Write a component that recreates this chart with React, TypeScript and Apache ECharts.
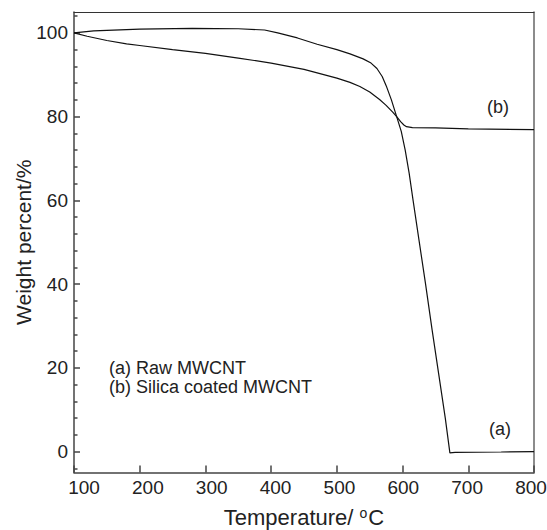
import React, { useEffect, useRef } from "react";
import * as echarts from "echarts";

// Curve (a): Raw MWCNT  [temperature °C, weight %]
const rawTemp = [100, 130, 200, 280, 350, 390, 410, 440, 470, 500, 520, 540, 552, 561, 569, 576, 583, 591, 598, 604, 610, 616, 625, 635, 645, 655, 665, 672, 680, 750, 800];
const rawWeight = [100, 100.5, 100.9, 101.1, 101.0, 100.7, 100.0, 98.8, 97.3, 96.0, 95.0, 93.8, 92.8, 91.5, 89.6, 87.0, 84.0, 80.0, 76.5, 72.0, 66.5, 60.0, 50.5, 40.0, 29.0, 18.5, 8.0, -0.3, -0.2, -0.1, 0];

// Curve (b): Silica coated MWCNT
const silicaTemp = [100, 120, 150, 180, 200, 250, 300, 350, 400, 450, 500, 520, 535, 550, 565, 575, 585, 591, 597, 602, 606, 615, 650, 700, 800];
const silicaWeight = [100, 99.2, 98.2, 97.4, 97.0, 96.0, 95.1, 94.0, 92.8, 91.3, 89.2, 88.2, 87.2, 85.9, 84.1, 82.7, 81.1, 80.0, 78.8, 78.0, 77.6, 77.4, 77.3, 77.1, 76.9];

const xTicks = [100, 200, 300, 400, 500, 600, 700, 800];
const yMajorTicks = [0, 20, 40, 60, 80, 100];
const yMinorTicks = [-4, 4, 8, 12, 16, 24, 28, 32, 36, 44, 48, 52, 56, 64, 68, 72, 76, 84, 88, 92, 96, 104];

const legendLines = ["(a) Raw MWCNT", "(b) Silica coated MWCNT"];
const curveLabels = ["(a)", "(b)"];

const FONT = "'Liberation Sans', Arial, Helvetica, sans-serif";
const TEXT = "#222";
const AXIS = "#444";

export default function App() {
  const ref = useRef<HTMLDivElement>(null);

  useEffect(() => {
    if (!ref.current) return;
    const chart = echarts.init(ref.current, undefined, { renderer: "svg" });
    const rawData = rawTemp.map((t, i) => [t, rawWeight[i]]);
    const silicaData = silicaTemp.map((t, i) => [t, silicaWeight[i]]);

    // the printed x labels sit slightly off their ticks (pulled toward the centre)
    const xRich: Record<string, any> = {};
    xTicks.forEach((t, i) => {
      const shift = 10 - (i / (xTicks.length - 1)) * 13;
      xRich["p" + t] = {
        fontSize: 19,
        color: TEXT,
        fontFamily: FONT,
        padding: shift >= 0 ? [0, 0, 0, 2 * shift] : [0, -2 * shift, 0, 0],
      };
    });

    chart.setOption({
      animation: false,
      backgroundColor: "#fff",
      grid: { left: 74, top: 12, width: 460, height: 460.5, show: false, outerBoundsMode: "none", containLabel: false },
      xAxis: [
        {
          type: "value",
          min: 100,
          max: 800,
          interval: 100,
          position: "bottom",
          axisLine: { show: true, onZero: false, lineStyle: { color: AXIS, width: 1.5 } },
          axisTick: { show: true, inside: true, length: 7, lineStyle: { color: AXIS, width: 1.5 } },
          splitLine: { show: false },
          axisLabel: {
            show: true,
            margin: 5,
            fontSize: 19,
            color: TEXT,
            fontFamily: FONT,
            formatter: (v: number) => "{p" + v + "|" + v + "}",
            rich: xRich,
          },
          name: "Temperature/ {sup|o}C",
          nameLocation: "middle",
          nameGap: 33,
          nameMoveOverlap: false,
          nameTextStyle: {
            fontSize: 22,
            color: TEXT,
            fontFamily: FONT,
            rich: {
              sup: { fontSize: 14, color: TEXT, fontFamily: FONT, verticalAlign: "top", padding: [0, 1, 10, 0] },
            },
          },
        },
        {
          type: "value",
          min: 100,
          max: 800,
          interval: 100,
          position: "top",
          axisLine: { show: true, onZero: false, lineStyle: { color: "#333", width: 1 } },
          axisTick: { show: false },
          axisLabel: { show: false },
          splitLine: { show: false },
        },
      ],
      yAxis: [
        {
          type: "value",
          min: -5,
          max: 105,
          position: "left",
          axisLine: { show: true, onZero: false, lineStyle: { color: AXIS, width: 1.5 } },
          axisTick: { show: true, inside: true, length: 6, customValues: yMajorTicks, lineStyle: { color: AXIS, width: 1.5 } },
          axisLabel: { show: true, margin: 6, fontSize: 19, color: TEXT, fontFamily: FONT, customValues: yMajorTicks },
          splitLine: { show: false },
          name: "Weight percent/%",
          nameLocation: "middle",
          nameGap: 40,
          nameMoveOverlap: false,
          nameTextStyle: { fontSize: 21, color: TEXT, fontFamily: FONT },
        },
        {
          type: "value",
          min: -5,
          max: 105,
          position: "left",
          offset: 0,
          axisLine: { show: false, onZero: false },
          axisTick: { show: true, inside: true, length: 3.5, customValues: yMinorTicks, lineStyle: { color: AXIS, width: 1.5 } },
          axisLabel: { show: false },
          splitLine: { show: false },
        },
        {
          type: "value",
          min: -5,
          max: 105,
          position: "right",
          axisLine: { show: true, onZero: false, lineStyle: { color: "#666", width: 1.5 } },
          axisTick: { show: false },
          axisLabel: { show: false },
          splitLine: { show: false },
        },
      ],
      series: [
        { type: "line", name: "Raw MWCNT", data: rawData, showSymbol: false, lineStyle: { color: "#111", width: 1.2 }, xAxisIndex: 0, yAxisIndex: 0 },
        { type: "line", name: "Silica coated MWCNT", data: silicaData, showSymbol: false, lineStyle: { color: "#111", width: 1.2 }, xAxisIndex: 0, yAxisIndex: 0 },
      ],
      graphic: [
        { type: "text", left: 109, top: 359, style: { text: legendLines[0], fontSize: 18, fill: TEXT, fontFamily: FONT } },
        { type: "text", left: 109, top: 378, style: { text: legendLines[1], fontSize: 18, fill: TEXT, fontFamily: FONT } },
        { type: "text", left: 489, top: 420, style: { text: curveLabels[0], fontSize: 18, fill: TEXT, fontFamily: FONT } },
        { type: "text", left: 487, top: 98, style: { text: curveLabels[1], fontSize: 18, fill: TEXT, fontFamily: FONT } },
      ],
    });
    return () => chart.dispose();
  }, []);

  return <div ref={ref} style={{ position: "fixed", left: 0, top: 0, width: 547, height: 530 }} />;
}
